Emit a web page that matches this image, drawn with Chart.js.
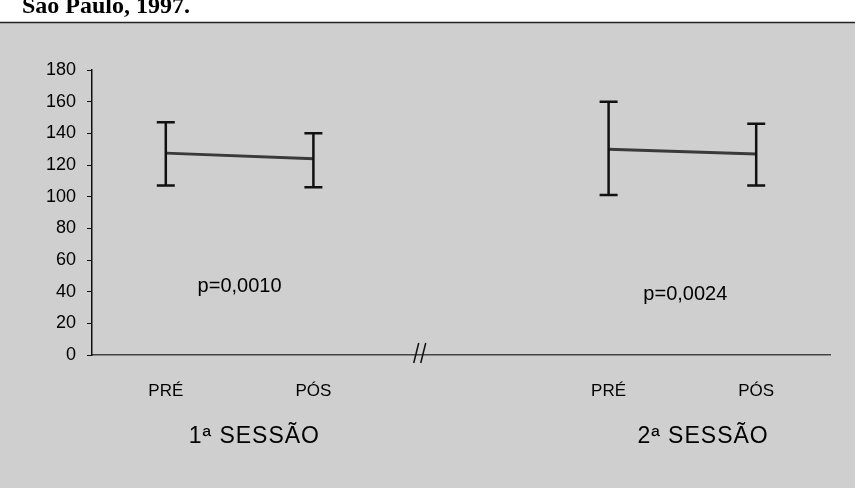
<!DOCTYPE html>
<html>
<head>
<meta charset="utf-8">
<script src="https://cdn.jsdelivr.net/npm/chart.js@4.4.1/dist/chart.umd.min.js"></script>
<style>
  html, body { margin: 0; padding: 0; background: #fff; }
  #wrap { width: 855px; height: 488px; position: relative; }
</style>
</head>
<body>
<div id="wrap"><canvas id="c" width="855" height="488"></canvas></div>
<script>
// ---- data ----
const categories = ['PRÉ', 'PÓS', 'PRÉ', 'PÓS'];
const positions = [0, 1, 3, 4];
const means = [127.5, 124, 130, 127];
const upper = [147, 140, 160, 146];
const lower = [107, 106, 101, 107];
const sessions = ['1ª SESSÃO', '2ª SESSÃO'];
const sessionCenters = [0.6, 3.64];
const pValues = ['p=0,0010', 'p=0,0024'];
const pPositions = [[0.5, 43], [3.52, 38.5]];
const breakAt = 1.7;
const yTicks = [0, 20, 40, 60, 80, 100, 120, 140, 160, 180];
const titleText = 'São Paulo, 1997.';

const FONT = '"Liberation Sans", Arial, sans-serif';

const sessionData = [
  [{x: positions[0], y: means[0]}, {x: positions[1], y: means[1]}],
  [{x: positions[2], y: means[2]}, {x: positions[3], y: means[3]}]
];

const decor = {
  id: 'decor',
  beforeDraw(chart) {
    const ctx = chart.ctx;
    ctx.save();
    ctx.fillStyle = '#ffffff';
    ctx.fillRect(0, 0, chart.width, chart.height);
    ctx.fillStyle = '#cfcfcf';
    ctx.fillRect(0, 22, chart.width, chart.height - 22);
    ctx.strokeStyle = '#222';
    ctx.lineWidth = 1.5;
    ctx.beginPath();
    ctx.moveTo(0, 22.5); ctx.lineTo(chart.width, 22.5);
    ctx.stroke();
    ctx.fillStyle = '#000';
    ctx.font = 'bold 24px "Liberation Serif", "Times New Roman", serif';
    ctx.textBaseline = 'alphabetic';
    ctx.textAlign = 'left';
    ctx.fillText(titleText, 22, 13);
    ctx.restore();
  },
  afterDatasetsDraw(chart) {
    const ctx = chart.ctx;
    const xs = chart.scales.x, ys = chart.scales.y;
    ctx.save();
    // error bars
    ctx.strokeStyle = '#111';
    ctx.lineWidth = 2.5;
    for (let i = 0; i < positions.length; i++) {
      const px = xs.getPixelForValue(positions[i]);
      const pu = ys.getPixelForValue(upper[i]);
      const pl = ys.getPixelForValue(lower[i]);
      ctx.beginPath();
      ctx.moveTo(px, pu); ctx.lineTo(px, pl);
      ctx.moveTo(px - 9, pu); ctx.lineTo(px + 9, pu);
      ctx.moveTo(px - 9, pl); ctx.lineTo(px + 9, pl);
      ctx.stroke();
    }
    // p-values
    ctx.fillStyle = '#000';
    ctx.font = '20px ' + FONT;
    ctx.textAlign = 'center';
    ctx.textBaseline = 'middle';
    for (let i = 0; i < pValues.length; i++) {
      ctx.fillText(pValues[i], xs.getPixelForValue(pPositions[i][0]), ys.getPixelForValue(pPositions[i][1]));
    }
    // session labels
    ctx.font = '23px ' + FONT;
    if ('letterSpacing' in ctx) ctx.letterSpacing = '1px';
    const base = ys.getPixelForValue(0);
    for (let i = 0; i < sessions.length; i++) {
      ctx.fillText(sessions[i], xs.getPixelForValue(sessionCenters[i]), base + 82);
    }
    if ('letterSpacing' in ctx) ctx.letterSpacing = '0px';
    // axis break mark
    const bx = xs.getPixelForValue(breakAt);
    ctx.strokeStyle = '#111';
    ctx.lineWidth = 1.5;
    ctx.beginPath();
    ctx.moveTo(bx - 3, base + 8); ctx.lineTo(bx + 2, base - 12);
    ctx.moveTo(bx + 4, base + 8); ctx.lineTo(bx + 9, base - 12);
    ctx.stroke();
    ctx.restore();
  }
};

new Chart(document.getElementById('c'), {
  type: 'line',
  data: {
    datasets: sessionData.map(d => ({
      data: d,
      borderColor: '#3a3a3a',
      borderWidth: 3,
      pointRadius: 0,
      fill: false,
      tension: 0
    }))
  },
  options: {
    responsive: false,
    animation: false,
    events: [],
    layout: { padding: { top: 70, right: 25, left: 0, bottom: 0 } },
    plugins: { legend: { display: false }, tooltip: { enabled: false }, title: { display: false } },
    scales: {
      x: {
        type: 'linear',
        min: -0.5,
        max: 4.5,
        afterBuildTicks(scale) { scale.ticks = positions.map(v => ({ value: v })); },
        afterFit(scale) { scale.height = 133; },
        grid: { display: false, drawTicks: false },
        border: { display: true, color: '#444', width: 1.5, dash: [2, 2] },
        ticks: {
          autoSkip: false,
          maxRotation: 0,
          padding: 26,
          color: '#000',
          font: { family: FONT, size: 17 },
          callback(value) {
            const i = positions.indexOf(value);
            return i >= 0 ? categories[i] : '';
          }
        }
      },
      y: {
        min: 0,
        max: 180,
        afterBuildTicks(scale) { scale.ticks = yTicks.map(v => ({ value: v })); },
        afterFit(scale) { scale.width = 92; },
        grid: { display: true, drawOnChartArea: false, drawTicks: true, tickLength: 5, color: '#111', lineWidth: 1 },
        border: { display: true, color: '#111', width: 1.5 },
        ticks: {
          padding: 11,
          color: '#000',
          font: { family: FONT, size: 18 }
        }
      }
    }
  },
  plugins: [decor]
});
</script>
</body>
</html>
